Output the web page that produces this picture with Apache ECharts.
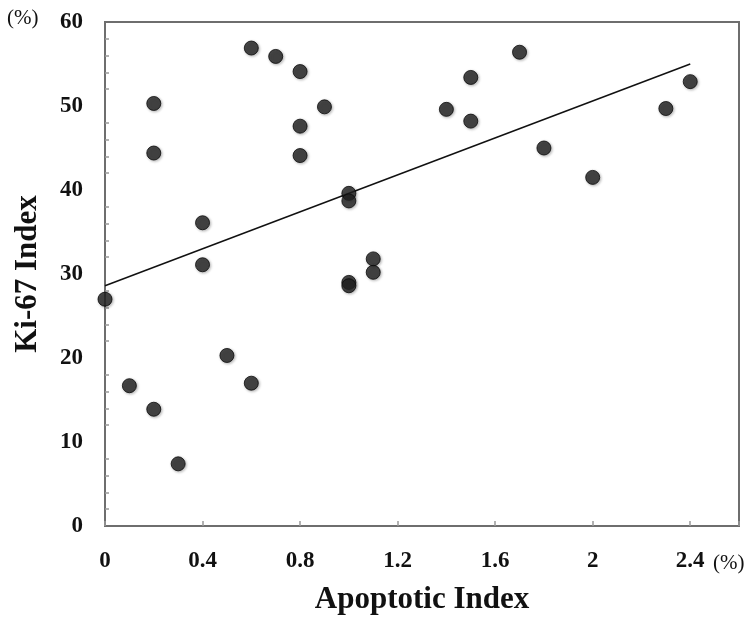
<!DOCTYPE html>
<html>
<head>
<meta charset="utf-8">
<script src="https://cdn.jsdelivr.net/npm/echarts@6/dist/echarts.min.js"></script>
<style>
  html, body { margin: 0; padding: 0; background: #fff; }
  #main { width: 756px; height: 620px; }
</style>
</head>
<body>
<div id="main"></div>
<script>
  // 数据：凋亡指数 (x) 与 Ki-67 指数 (y)
  var apoptotic = [0, 0.1, 0.2, 0.2, 0.2, 0.3, 0.4, 0.4, 0.5, 0.6, 0.6, 0.7, 0.8, 0.8, 0.8,
                   0.9, 1.0, 1.0, 1.0, 1.0, 1.1, 1.1, 1.4, 1.5, 1.5, 1.7, 1.8, 2.0, 2.3, 2.4];
  var ki67 = [27.0, 16.7, 13.9, 44.4, 50.3, 7.4, 36.1, 31.1, 20.3, 17.0, 56.9, 55.9, 54.1, 47.6, 44.1,
              49.9, 39.6, 38.7, 29.0, 28.6, 31.8, 30.2, 49.6, 53.4, 48.2, 56.4, 45.0, 41.5, 49.7, 52.9];
  // 回归线两端
  var trendX = [0, 2.4];
  var trendY = [28.6, 55.0];
  var xTicks = [0, 0.4, 0.8, 1.2, 1.6, 2, 2.4];

  var points = apoptotic.map(function (x, i) { return [x, ki67[i]]; });
  var trend = trendX.map(function (x, i) { return [x, trendY[i]]; });

  var serif = '"Liberation Serif", "Times New Roman", serif';
  var chart = echarts.init(document.getElementById('main'));

  var option = {
    animation: false,
    grid: {
      left: 105, right: 17, top: 22, bottom: 92,
      show: true,
      borderColor: '#6e6e6e',
      borderWidth: 2
    },
    xAxis: {
      type: 'value',
      min: 0,
      max: 2.6,
      interval: 0.4,
      name: 'Apoptotic Index',
      nameLocation: 'middle',
      nameGap: 58,
      nameTextStyle: { fontFamily: serif, fontWeight: 'bold', fontSize: 31, color: '#111' },
      axisLine: { show: true, lineStyle: { color: '#6e6e6e', width: 2 } },
      axisTick: { show: true, inside: true, length: 5, lineStyle: { color: '#999', width: 1.5 } },
      splitLine: { show: false },
      axisLabel: {
        margin: 24,
        fontFamily: serif, fontWeight: 'bold', fontSize: 23, color: '#111',
        formatter: function (v) {
          var hit = xTicks.filter(function (t) { return Math.abs(t - v) < 1e-6; });
          return hit.length ? String(hit[0]) : '';
        }
      }
    },
    yAxis: {
      type: 'value',
      min: 0,
      max: 60,
      interval: 10,
      name: 'Ki-67 Index',
      nameLocation: 'middle',
      nameGap: 62,
      nameTextStyle: { fontFamily: serif, fontWeight: 'bold', fontSize: 31, color: '#111' },
      axisLine: { show: true, lineStyle: { color: '#6e6e6e', width: 2 } },
      axisTick: { show: false, inside: true },
      minorTick: { show: true, splitNumber: 5, length: 4, lineStyle: { color: '#999', width: 1.5 } },
      splitLine: { show: false },
      axisLabel: {
        margin: 22,
        fontFamily: serif, fontWeight: 'bold', fontSize: 23, color: '#111'
      }
    },
    graphic: [
      {
        type: 'text', left: 7, top: 8,
        style: { text: '(%)', font: '21px ' + serif, fill: '#111' }
      },
      {
        type: 'text', left: 713, top: 553,
        style: { text: '(%)', font: '21px ' + serif, fill: '#111' }
      }
    ],
    series: [
      {
        type: 'line',
        data: trend,
        symbol: 'none',
        lineStyle: { color: '#111', width: 1.5 },
        z: 2
      },
      {
        type: 'scatter',
        data: points,
        symbolSize: 14,
        itemStyle: {
          color: '#222',
          borderColor: '#0a0a0a',
          borderWidth: 1,
          shadowBlur: 3,
          shadowColor: 'rgba(0,0,0,0.35)',
          shadowOffsetX: 1,
          shadowOffsetY: 1
        },
        z: 3
      }
    ]
  };

  chart.setOption(option);
</script>
</body>
</html>
